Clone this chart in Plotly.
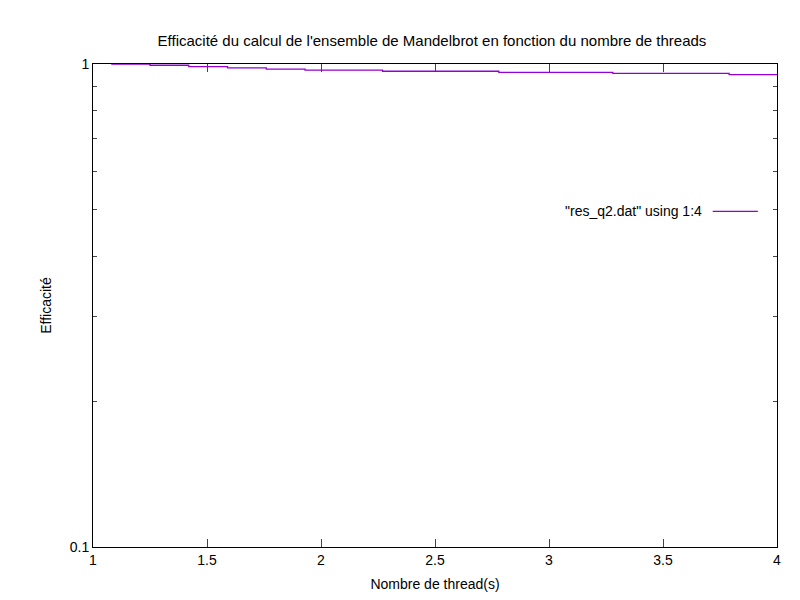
import plotly.graph_objects as go

threads = [1.08, 1.25, 1.42, 1.59, 1.76, 1.93, 2.27, 2.78, 3.28, 3.79, 4.0]
efficacite = [1.0, 0.994, 0.988, 0.982, 0.976, 0.971, 0.966, 0.961, 0.956, 0.951, 0.951]
minor_vals = [0.2, 0.3, 0.4, 0.5, 0.6, 0.7, 0.8, 0.9]

fig = go.Figure()
fig.add_trace(go.Scatter(x=threads, y=efficacite, mode="lines", line_shape="hv",
                         line=dict(color="#9400d3", width=1.3), showlegend=False))
F = "Liberation Sans, Arial, sans-serif"
fig.update_layout(
    width=800, height=600, plot_bgcolor="white", paper_bgcolor="white",
    margin=dict(l=85, r=31, t=56, b=61, autoexpand=False),
    font=dict(family=F, size=14, color="black"),
    title=dict(text="Efficacité du calcul de l'ensemble de Mandelbrot en fonction du nombre de threads",
               x=0.53, xanchor="center", y=0.955, font=dict(size=15)),
)
fig.update_xaxes(range=[1, 4], tickvals=[1, 1.5, 2, 2.5, 3, 3.5, 4], ticktext=["1", "1.5", "2", "2.5", "3", "3.5", "4"],
                 ticks="inside", ticklen=8, mirror="allticks", showline=True, linecolor="black",
                 showgrid=False, zeroline=False, automargin=False,
                 title=dict(text="Nombre de thread(s)", standoff=12, font=dict(size=14)))
fig.update_yaxes(type="log", range=[-1, 0], tickvals=[0.1, 1], ticktext=["0.1", "1"],
                 ticks="inside", ticklen=8, mirror="allticks", showline=True, linecolor="black",
                 showgrid=False, zeroline=False, automargin=False,
                 title=dict(text="Efficacité", standoff=14, font=dict(size=14)),
                 minor=dict(tickvals=minor_vals, ticks="inside", ticklen=4, showgrid=False))
fig.add_annotation(text='"res_q2.dat" using 1:4', xref="paper", yref="paper", x=0.894, y=0.695,
                   xanchor="right", yanchor="middle", showarrow=False, font=dict(size=14))
fig.add_shape(type="line", xref="paper", yref="paper", x0=0.906, x1=0.972, y0=0.695, y1=0.695,
              line=dict(color="#9400d3", width=1.3))
fig.write_html("out.html")
